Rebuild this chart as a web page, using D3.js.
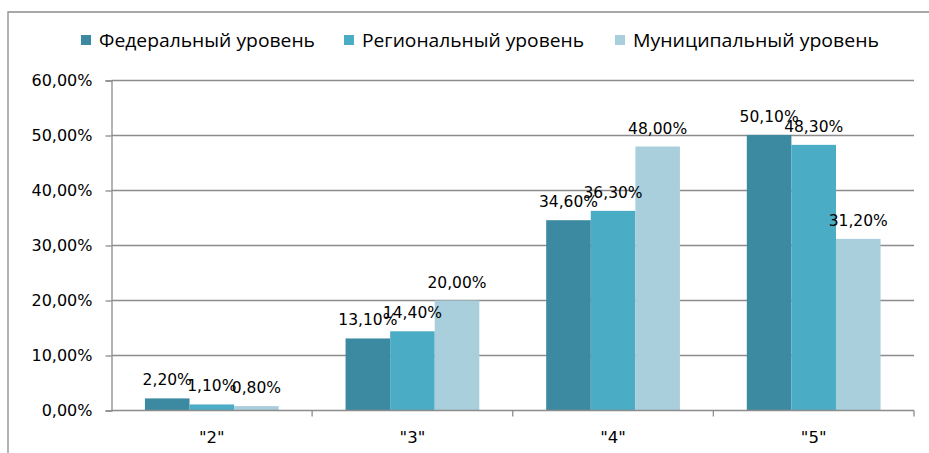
<!DOCTYPE html>
<html>
<head>
<meta charset="utf-8">
<script src="https://cdn.jsdelivr.net/npm/d3@7"></script>
<style>
    body { margin: 0; background: #fff; }
    svg text { font-family: "DejaVu Sans", sans-serif; fill: #000; }
</style>
</head>
<body>
<div id="chart"></div>
<script>
const categories = ['"2"', '"3"', '"4"', '"5"'];
const seriesNames = ["Федеральный уровень", "Региональный уровень", "Муниципальный уровень"];
const federal   = [2.2, 13.1, 34.6, 50.1];
const regional  = [1.1, 14.4, 36.3, 48.3];
const municipal = [0.8, 20.0, 48.0, 31.2];
const yTicks = [0, 10, 20, 30, 40, 50, 60];
const colors = ["#3c8aa1", "#4bacc6", "#a9cfdd"];

const width = 929;
const height = 453;

const allSeries = [federal, regional, municipal];

const svg = d3.select("#chart")
    .append("svg")
    .attr("width", width)
    .attr("height", height);

// outer frame (cut off on right and bottom)
svg.append("path")
    .attr("d", "M8,453 V12 H929")
    .attr("fill", "none")
    .attr("stroke", "#8c8c8c")
    .attr("stroke-width", 1.3);

const x0 = d3.scaleBand().domain(categories).range([111.5, 914]).paddingInner(1 / 3).paddingOuter(1 / 6);
const x1 = d3.scaleBand().domain(d3.range(3)).range([0, x0.bandwidth()]);
const y = d3.scaleLinear().domain([0, 60]).range([410.5, 80.5]);

const fmt = v => v.toFixed(2).replace(".", ",") + "%";

// gridlines
svg.append("g")
    .selectAll("line")
    .data(yTicks.slice(1))
    .enter()
    .append("line")
    .attr("x1", 111.5)
    .attr("x2", 914)
    .attr("y1", d => y(d))
    .attr("y2", d => y(d))
    .attr("stroke", "#8c8c8c")
    .attr("stroke-width", 1.3);

// bars
const groups = svg.append("g")
    .selectAll("g")
    .data(categories)
    .enter()
    .append("g")
    .attr("transform", d => "translate(" + x0(d) + ",0)");

groups.selectAll("rect")
    .data((d, i) => allSeries.map((s, k) => ({ k: k, v: s[i] })))
    .enter()
    .append("rect")
    .attr("x", d => x1(d.k))
    .attr("y", d => y(d.v))
    .attr("width", x1.bandwidth())
    .attr("height", d => y(0) - y(d.v))
    .attr("fill", d => colors[d.k]);

// data labels
groups.selectAll("text")
    .data((d, i) => allSeries.map((s, k) => ({ k: k, v: s[i] })))
    .enter()
    .append("text")
    .attr("x", d => x1(d.k) + x1.bandwidth() / 2)
    .attr("y", d => y(d.v) - 13)
    .attr("text-anchor", "middle")
    .style("font-size", "15.5px")
    .text(d => fmt(d.v));

// y axis
const yAxis = d3.axisLeft(y).tickValues(yTicks).tickSize(6).tickPadding(13).tickFormat(d => fmt(d));
const gy = svg.append("g")
    .attr("transform", "translate(111.5,0)")
    .call(yAxis);
gy.select(".domain").attr("stroke", "#8c8c8c").attr("stroke-width", 1.3);
gy.selectAll(".tick line").attr("stroke", "#8c8c8c").attr("stroke-width", 1.3);
gy.selectAll(".tick text").style("font-size", "16px").style("font-family", "'DejaVu Sans', sans-serif");

// x axis
const gx = svg.append("g")
    .attr("transform", "translate(0,410.5)");
gx.append("line")
    .attr("x1", 111.5).attr("x2", 914)
    .attr("stroke", "#8c8c8c").attr("stroke-width", 1.6);
const boundaries = categories.map(c => x0(c) + x0.bandwidth() + x0.step() * (1 / 6));
gx.selectAll("line.tk")
    .data(boundaries)
    .enter()
    .append("line")
    .attr("class", "tk")
    .attr("x1", d => d).attr("x2", d => d)
    .attr("y1", 0).attr("y2", 6)
    .attr("stroke", "#8c8c8c").attr("stroke-width", 1.3);
gx.selectAll("text")
    .data(categories)
    .enter()
    .append("text")
    .attr("x", d => x0(d) + x0.bandwidth() / 2)
    .attr("y", 32)
    .attr("text-anchor", "middle")
    .style("font-size", "16.5px")
    .text(d => d);

// legend
const legendX = [81, 344, 615];
const legendLen = [216, 222, 246];
const legend = svg.append("g")
    .selectAll("g")
    .data(seriesNames)
    .enter()
    .append("g")
    .attr("transform", (d, i) => "translate(" + legendX[i] + ",40)");
legend.append("rect")
    .attr("x", 0).attr("y", -5)
    .attr("width", 10).attr("height", 10)
    .attr("fill", (d, i) => colors[i]);
legend.append("text")
    .attr("x", 18)
    .attr("y", 6.5)
    .style("font-size", "17.5px")
    .style("font-family", "'Open Sans', sans-serif")
    .attr("textLength", (d, i) => legendLen[i])
    .attr("lengthAdjust", "spacingAndGlyphs")
    .text(d => d);
</script>
</body>
</html>
